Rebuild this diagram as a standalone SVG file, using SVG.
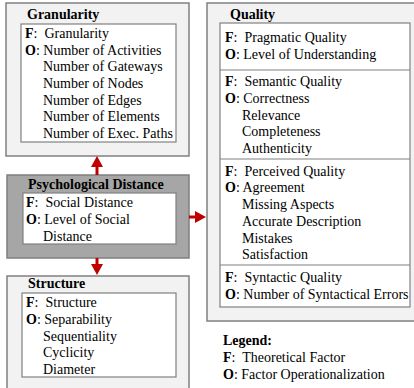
<svg xmlns="http://www.w3.org/2000/svg" width="414" height="388" viewBox="0 0 414 388">
<style>
.outer{fill:#f2f2f2;stroke:#808080;stroke-width:1.5}
.dark{fill:#a6a6a6;stroke:#7f7f7f;stroke-width:1.5}
.inner{fill:#ffffff;stroke:#808080;stroke-width:1.2}
.div{stroke:#808080;stroke-width:1.2}
text{font-family:'Liberation Serif','DejaVu Serif',serif;font-size:14px;fill:#000;white-space:pre}
.t{font-weight:bold}
.b{font-weight:bold}
.arr{stroke:#c00000;stroke-width:3;fill:none}
.head{fill:#c00000}
</style>
<g id="granularity">
<rect class="outer" x="6" y="3" width="183" height="153"/>
<text class="t" x="27" y="19">Granularity</text>
<rect class="inner" x="21" y="24" width="155" height="118"/>
<text x="25" y="38" xml:space="preserve"><tspan class="b">F</tspan>:  Granularity</text>
<text x="25" y="55"><tspan class="b">O</tspan>: Number of Activities</text>
<text x="43" y="71">Number of Gateways</text>
<text x="43" y="88">Number of Nodes</text>
<text x="43" y="105">Number of Edges</text>
<text x="43" y="121">Number of Elements</text>
<text x="43" y="138">Number of Exec. Paths</text>
</g>
<g id="psychological">
<rect class="dark" x="7" y="175" width="182" height="83"/>
<text class="t" x="28" y="189">Psychological Distance</text>
<rect class="inner" x="23" y="193" width="153" height="51"/>
<text x="26" y="207" xml:space="preserve"><tspan class="b">F</tspan>:  Social Distance</text>
<text x="26" y="224"><tspan class="b">O</tspan>: Level of Social</text>
<text x="43" y="241">Distance</text>
</g>
<g id="structure">
<rect class="outer" x="7" y="276" width="182" height="120"/>
<text class="t" x="28" y="288">Structure</text>
<rect class="inner" x="22" y="293" width="154" height="84"/>
<text x="26" y="307" xml:space="preserve"><tspan class="b">F</tspan>:  Structure</text>
<text x="26" y="324"><tspan class="b">O</tspan>: Separability</text>
<text x="43" y="341">Sequentiality</text>
<text x="43" y="357">Cyclicity</text>
<text x="43" y="374">Diameter</text>
</g>
<g id="quality">
<rect class="outer" x="207" y="3" width="210" height="318"/>
<text class="t" x="230" y="19">Quality</text>
<rect class="inner" x="220" y="23" width="190" height="284"/>
<line class="div" x1="220" y1="70" x2="410" y2="70"/>
<line class="div" x1="220" y1="159" x2="410" y2="159"/>
<line class="div" x1="220" y1="265" x2="410" y2="265"/>
<text x="225" y="42" xml:space="preserve"><tspan class="b">F</tspan>:  Pragmatic Quality</text>
<text x="225" y="59"><tspan class="b">O</tspan>: Level of Understanding</text>
<text x="225" y="86" xml:space="preserve"><tspan class="b">F</tspan>:  Semantic Quality</text>
<text x="225" y="103"><tspan class="b">O</tspan>: Correctness</text>
<text x="242" y="120">Relevance</text>
<text x="242" y="136">Completeness</text>
<text x="242" y="153">Authenticity</text>
<text x="225" y="176" xml:space="preserve"><tspan class="b">F</tspan>:  Perceived Quality</text>
<text x="225" y="192"><tspan class="b">O</tspan>: Agreement</text>
<text x="242" y="209">Missing Aspects</text>
<text x="242" y="226">Accurate Description</text>
<text x="242" y="243">Mistakes</text>
<text x="242" y="259">Satisfaction</text>
<text x="225" y="282" xml:space="preserve"><tspan class="b">F</tspan>:  Syntactic Quality</text>
<text x="225" y="299"><tspan class="b">O</tspan>: Number of Syntactical Errors</text>
</g>
<g id="legend">
<text class="t" x="223" y="345">Legend:</text>
<text x="223" y="362" xml:space="preserve"><tspan class="b">F</tspan>:  Theoretical Factor</text>
<text x="223" y="379"><tspan class="b">O</tspan>: Factor Operationalization</text>
</g>
<g id="connectors">
<line class="arr" x1="97" y1="175" x2="97" y2="166"/>
<polygon class="head" points="97,156 91,167 103,167"/>
<line class="arr" x1="97" y1="258" x2="97" y2="265"/>
<polygon class="head" points="97,275 91,264 103,264"/>
<line class="arr" x1="189" y1="217" x2="196" y2="217"/>
<polygon class="head" points="206,217 195,211 195,223"/>
</g>
</svg>
